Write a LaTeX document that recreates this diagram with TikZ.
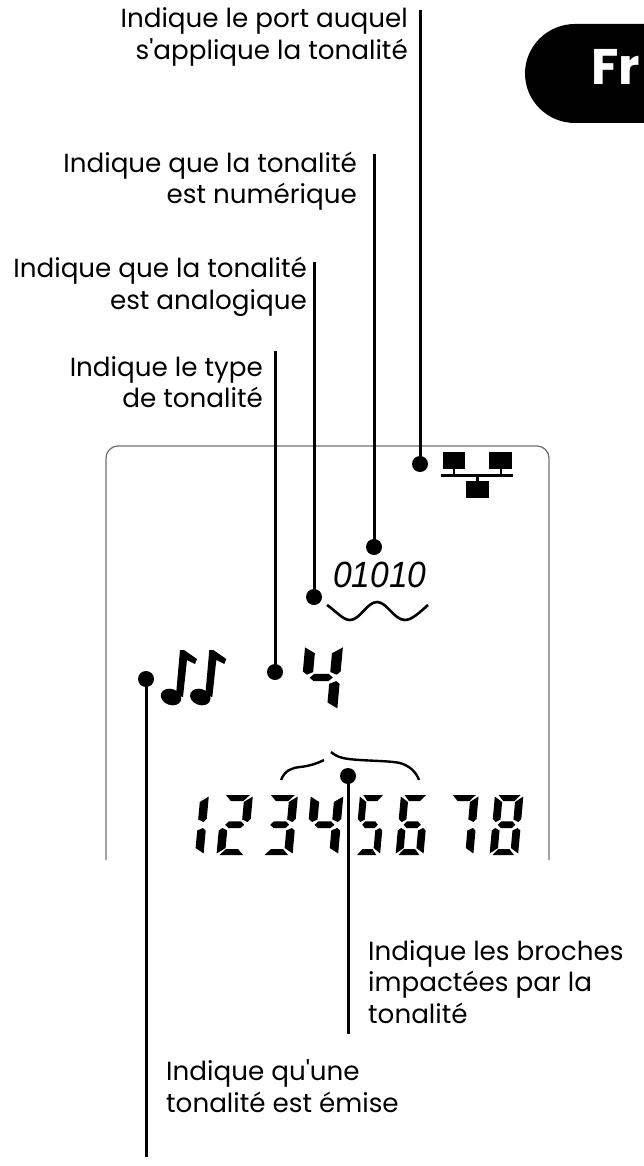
\documentclass[tikz,border=0pt]{standalone}
\usepackage{fontspec}
\setmainfont{Poppins}
\newfontfamily\numfont{Liberation Sans}
\newfontfamily\labfont{Poppins}
\tikzset{
  x=1pt,y=-1pt,
  leader/.style={draw=black,line width=3pt},
  dotnode/.style={circle,fill=black,inner sep=0pt,minimum size=16pt},
  lab/.style={font=\labfont\fontsize{26.2}{31.5}\selectfont,inner sep=0pt,text=black},
  labr/.style={lab,align=right,anchor=east},
  labl/.style={lab,align=left,anchor=west},
}
% seven-segment digit: #1 x, #2 y (bottom-left), #3 xscale, #4 yscale, #5 list of segments
\newcommand{\sevseg}[5]{%
\begin{scope}[shift={(#1,#2)},x=#3pt,y=-#4pt,xslant=0.09]
\foreach \s in {#5}{%
  \ifnum\s=1 \fill (3.5,-60) -- (27.5,-60) -- (21.5,-54) -- (9,-54) -- cycle;\fi
  \ifnum\s=2 \fill (30.5,-58.5) -- (30.5,-36) -- (27.5,-33) -- (22,-35.5) -- (22,-53) -- cycle;\fi
  \ifnum\s=3 \fill (30.5,-24.5) -- (30.5,-1.5) -- (22,-7) -- (22,-24.5) -- (27.5,-27) -- cycle;\fi
  \ifnum\s=4 \fill (2.5,0) -- (26,0) -- (20.5,-6) -- (8.5,-6) -- cycle;\fi
  \ifnum\s=5 \fill (-0.5,-24.5) -- (3,-27) -- (8,-24.5) -- (8,-7) -- (-0.5,-1.5) -- cycle;\fi
  \ifnum\s=6 \fill (-0.5,-58.5) -- (8,-53) -- (8,-35.5) -- (3,-33) -- (-0.5,-36) -- cycle;\fi
  \ifnum\s=7 \fill (5.5,-30.2) -- (9,-33.7) -- (21,-33.7) -- (24.5,-30.2) -- (21,-27) -- (9,-27) -- cycle;\fi
}
\end{scope}}
\begin{document}
\begin{tikzpicture}
\useasboundingbox (0,0) rectangle (644,1166);
% language tab
\fill[black] (644,24) -- (575,24) .. controls (547.4,24) and (525,46.2) .. (525,73.5) .. controls (525,100.8) and (547.4,123) .. (575,123) -- (644,123) -- cycle;
\node[font=\fontsize{50}{50}\bfseries\selectfont,text=white,anchor=base west,inner sep=0pt] (lang) at (591,85) {Fr};
% display outline
\draw[draw=black!55,line width=1.3pt] (106,860) -- (106,458) .. controls (106,451.4) and (111.4,446) .. (118,446) -- (537,446) .. controls (543.6,446) and (549,451.4) .. (549,458) -- (549,860);
% network icon
\fill (443,452) rectangle (465,469);
\fill (489,452) rectangle (512,469);
\fill (466,481) rectangle (489,498);
\fill (441,473.5) rectangle (513,476.5);
\fill (452.5,469) rectangle (455,474);
\fill (499.5,469) rectangle (502,474);
\fill (476,476) rectangle (478.5,481);
% 01010 and wave
\node[font=\fontsize{36.5}{36.5}\numfont\itshape,anchor=base,inner sep=0pt] (bits) at (380,587) {\scalebox{0.92}[1]{01010}};
\draw[line width=2.6pt] (327,605) .. controls (337,612) and (343,620) .. (350,620) .. controls (360,620) and (367,602) .. (377,602) .. controls (387,602) and (394,620) .. (405,620) .. controls (412,620) and (420,612) .. (428,605);
% notes
\fill[rotate around={-20:(171,697)}] (171,697) ellipse[x radius=10.5,y radius=8];
\fill[rotate around={-20:(200.3,697)}] (200.3,697) ellipse[x radius=10.5,y radius=8];
\fill (176,695) -- (180,650) -- (184,650) -- (197,659) -- (195,664) -- (187,660) -- (183,697) -- cycle;
\fill (205.3,695) -- (209.3,650) -- (213.3,650) -- (226.3,659) -- (224.3,664) -- (216.3,660) -- (212.3,697) -- cycle;
% big digit 4
\sevseg{300}{710}{1.22}{1.07}{2,3,6,7}
% digit row
\sevseg{173}{855}{1}{1}{2,3}
\sevseg{217}{855}{1}{1}{1,2,7,5,4}
\sevseg{262}{855}{1}{1}{1,2,7,3,4}
\sevseg{306}{855}{1.05}{1}{6,7,2,3}
\sevseg{355}{855}{0.82}{1}{1,6,7,3,4}
\sevseg{396}{855}{0.9}{1}{1,6,7,3,4,5}
\sevseg{444}{855}{0.96}{1}{1,2,3}
\sevseg{490}{855}{0.92}{1}{1,2,3,4,5,6,7}
% braces
\draw[line width=2.4pt] (281,780) .. controls (285,770) and (292,768) .. (300,767) .. controls (310,766) and (318,763) .. (324,760);
\draw[line width=2.4pt] (331,752) .. controls (338,758) and (345,759) .. (360,760) .. controls (375,761) and (390,761) .. (400,763) .. controls (410,766) and (416,772) .. (419,780);
% dots and ends
\node[dotnode] (d1) at (420,464) {};
\node[dotnode] (d2) at (374,547) {};
\node[dotnode] (d3) at (314,597) {};
\node[dotnode] (d4) at (275,672) {};
\node[dotnode] (d5) at (146,679) {};
\node[dotnode] (d6) at (348,776) {};
\coordinate (e1) at (420,10);
\coordinate (e2) at (374,154);
\coordinate (e3) at (314,262);
\coordinate (e4) at (275,351);
\coordinate (e5) at (146,1157);
\coordinate (e6) at (348,1034);
\draw[leader] (e1) -- (d1.center);
\draw[leader] (e2) -- (d2.center);
\draw[leader] (e3) -- (d3.center);
\draw[leader] (e4) -- (d4.center);
\draw[leader] (d5.center) -- (e5);
\draw[leader] (d6.center) -- (e6);
% labels
\node[labr] (l1) at (408,37) {Indique le port auquel\\s'applique la tonalité};
\node[labr] (l2) at (357,181) {Indique que la tonalité\\est numérique};
\node[labr] (l3) at (307,287) {Indique que la tonalité\\est analogique};
\node[labr] (l4) at (263,382) {Indique le type\\de tonalité};
\node[labl] (l6) at (368,982) {Indique les broches\\impactées par la\\tonalité};
\node[labl] (l5) at (166,1086) {Indique qu'une\\tonalité est émise};
\end{tikzpicture}
\end{document}
